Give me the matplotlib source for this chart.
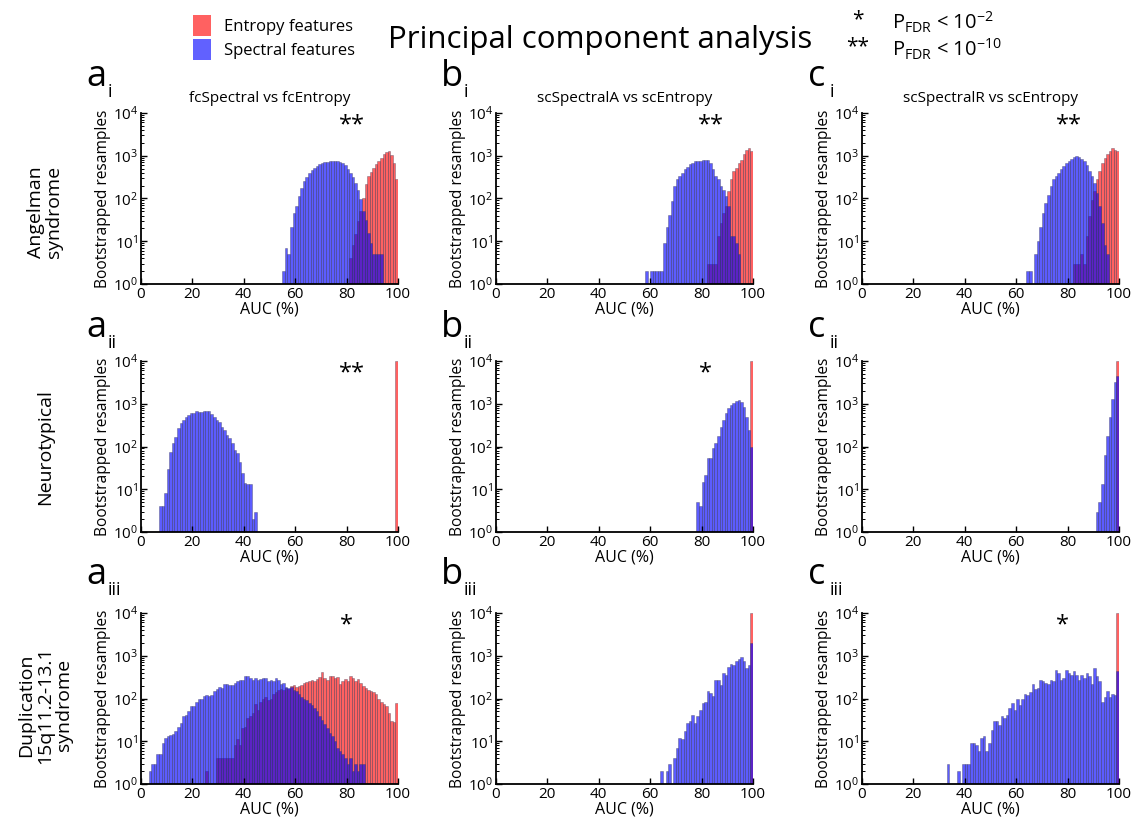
import matplotlib
matplotlib.use("Agg")
import matplotlib.pyplot as plt
import matplotlib.transforms as mtransforms
from matplotlib.patches import Patch

plt.rcParams['font.family'] = ['Open Sans', 'DejaVu Sans']
plt.rcParams['mathtext.default'] = 'regular'

# ---- data: bootstrapped AUC histograms (1% bins), first bin + counts ----
ai_spec_start = 55
ai_spec = [2, 7, 5, 22, 46, 66, 113, 177, 250, 320, 400, 460, 530, 590, 640, 680,
           710, 730, 750, 760, 770, 760, 730, 680, 600, 500, 400, 320, 230, 160,
           95, 50, 32, 16, 9, 5, 5, 5, 5]
ai_ent_start = 81
ai_ent = [4, 8, 15, 30, 50, 100, 220, 330, 420, 520, 640, 760, 900, 1070, 1200,
          1300, 1050, 680, 280]

bi_spec_start = 58
bi_spec = [2, 0, 2, 2, 2, 2, 2, 9, 22, 42, 87, 195, 280, 330, 400, 480, 550, 630,
           680, 750, 770, 760, 780, 800, 810, 680, 500, 330, 280, 195, 160, 113,
           66, 13, 13, 9, 5]
bi_ent_start = 82
bi_ent = [3, 3, 3, 3, 13, 27, 46, 66, 150, 280, 440, 520, 680, 800, 1070, 1400,
          1500, 1300]

ci_spec_start = 64
ci_spec = [2, 2, 0, 5, 10, 22, 46, 80, 120, 195, 280, 330, 400, 480, 570, 680,
           750, 850, 930, 1000, 960, 850, 750, 600, 440, 330, 230, 135, 66, 27,
           8, 5]
ci_ent_start = 82
ci_ent = [3, 3, 3, 5, 3, 13, 40, 90, 150, 280, 440, 680, 900, 1070, 1300, 1500,
          1400, 1300]

aii_spec_start = 7
aii_spec = [4, 4, 8, 30, 76, 120, 170, 270, 350, 420, 480, 550, 600, 620, 660,
            650, 650, 660, 690, 660, 580, 500, 420, 380, 290, 240, 185, 155, 120,
            84, 70, 44, 24, 14, 13, 13, 2, 3]
aii_ent_start = 99
aii_ent = [10000]

bii_spec_start = 78
bii_spec = [5, 4, 15, 21, 55, 55, 90, 120, 180, 290, 420, 600, 800, 950, 1060,
            1170, 1200, 1100, 860, 500, 240, 100]
bii_ent_start = 99
bii_ent = [10000]

cii_spec_start = 91
cii_spec = [3, 5, 13, 64, 178, 500, 1270, 3300, 4500]
cii_ent_start = 99
cii_ent = [10000]

aiii_spec_start = 3
aiii_spec = [2, 3, 3, 5, 5, 9, 12, 13, 14, 15, 17, 22, 27, 38, 42, 50, 65, 68, 85,
             100, 100, 112, 120, 112, 120, 147, 165, 185, 175, 220, 220, 210, 210,
             230, 250, 275, 275, 330, 340, 300, 275, 300, 275, 285, 300, 300, 250,
             275, 250, 300, 275, 220, 230, 190, 175, 185, 160, 150, 130, 110, 100,
             90, 80, 70, 60, 50, 40, 32, 25, 20, 16, 13, 10, 7, 6, 5, 4, 3, 4, 2,
             3, 2, 3, 3]
aiii_ent_start = 25
aiii_ent = [2, 0, 0, 0, 4, 4, 4, 4, 4, 4, 4, 8, 11, 8, 20, 22, 35, 38, 45, 75, 55,
            85, 100, 110, 90, 100, 130, 145, 155, 165, 160, 180, 170, 200, 210,
            185, 200, 210, 230, 240, 250, 275, 260, 290, 320, 410, 300, 270, 330,
            340, 300, 320, 220, 260, 280, 250, 330, 300, 260, 280, 230, 200, 175,
            160, 150, 140, 130, 100, 85, 75, 65, 45, 30, 28, 80]

biii_spec_start = 60
biii_spec = [1, 0, 1, 0, 2, 0, 2, 3, 0, 4, 7, 12, 11, 17, 27, 29, 42, 27, 38, 55,
             80, 85, 150, 135, 117, 275, 275, 210, 400, 360, 540, 650, 620, 740,
             840, 920, 740, 520, 620, 2000]
biii_ent_start = 99
biii_ent = [10000]

ciii_spec_start = 33
ciii_spec = [3, 0, 0, 0, 2, 0, 3, 3, 3, 9, 9, 8, 6, 12, 13, 6, 9, 18, 29, 29, 24,
             38, 35, 42, 60, 78, 55, 100, 70, 100, 130, 120, 140, 220, 165, 180,
             270, 250, 230, 220, 270, 260, 460, 400, 270, 300, 470, 400, 360, 430,
             360, 270, 360, 300, 400, 330, 220, 520, 330, 250, 85, 110, 150, 110,
             125, 120, 430]
ciii_ent_start = 99
ciii_ent = [10000]

titles = ["fcSpectral vs fcEntropy", "scSpectralA vs scEntropy", "scSpectralR vs scEntropy"]
col_letters = ["a", "b", "c"]
row_subs = ["i", "ii", "iii"]
row_names = ["Angelman\nsyndrome", "Neurotypical", "Duplication\n15q11.2-13.1\nsyndrome"]

# significance marks: (row, col) -> (mark, AUC position)
stars = {(0, 0): ("**", 82), (0, 1): ("**", 83.5), (0, 2): ("**", 80.5),
         (1, 0): ("**", 82), (1, 1): ("*", 81.5),
         (2, 0): ("*", 80), (2, 2): ("*", 78)}

panels = [
    [(ai_spec_start, ai_spec, ai_ent_start, ai_ent),
     (bi_spec_start, bi_spec, bi_ent_start, bi_ent),
     (ci_spec_start, ci_spec, ci_ent_start, ci_ent)],
    [(aii_spec_start, aii_spec, aii_ent_start, aii_ent),
     (bii_spec_start, bii_spec, bii_ent_start, bii_ent),
     (cii_spec_start, cii_spec, cii_ent_start, cii_ent)],
    [(aiii_spec_start, aiii_spec, aiii_ent_start, aiii_ent),
     (biii_spec_start, biii_spec, biii_ent_start, biii_ent),
     (ciii_spec_start, ciii_spec, ciii_ent_start, ciii_ent)],
]

RED = (1.0, 0.0, 0.0)
BLUE = (0.0, 0.0, 1.0)
EDGE = (0.25, 0.25, 0.35, 0.55)

W, H = 1132, 821


def px(x, y):
    return x / W, 1 - y / H


def bars(ax, start, counts, color, alpha):
    xs = [start + i for i, c in enumerate(counts) if c > 0]
    ys = [c for c in counts if c > 0]
    ax.bar(xs, ys, width=1, align='edge', color=color, alpha=alpha,
           edgecolor=EDGE, linewidth=0.4, log=True)


fig = plt.figure(figsize=(W / 100, H / 100), dpi=100)

col_left = [141, 496, 862]
row_top = [113, 361, 613]
ax_w, ax_h = 257, 171
letter_x = [86, 441, 808]
sub_x = [108, 464, 830]
letter_base = [86, 337, 584]

for r in range(3):
    for c in range(3):
        l, b = px(col_left[c], row_top[r] + ax_h)
        ax = fig.add_axes([l, b, ax_w / W, ax_h / H])
        s0, spec, e0, ent = panels[r][c]
        bars(ax, e0, ent, RED, 0.62)
        bars(ax, s0, spec, BLUE, 0.64)
        ax.set_yscale('log')
        ax.set_ylim(1, 1e4)
        ax.set_xlim(0, 100)
        ax.set_xticks([0, 20, 40, 60, 80, 100])
        ax.spines['top'].set_visible(False)
        ax.spines['right'].set_visible(False)
        ax.spines['left'].set_linewidth(1.3)
        ax.spines['bottom'].set_linewidth(1.3)
        ax.tick_params(axis='both', which='major', direction='in', length=4,
                       width=1, labelsize=11, pad=2)
        ax.tick_params(axis='y', which='minor', direction='in', length=2, width=0.7)
        ax.set_ylabel("Bootstrapped resamples", fontsize=11.2, labelpad=1)
        ax.set_xlabel("AUC (%)", fontsize=11.5, labelpad=0)
        if r == 0:
            ax.set_title(titles[c], fontsize=11, pad=8)
        if (r, c) in stars:
            mark, xpos = stars[(r, c)]
            trans = mtransforms.blended_transform_factory(ax.transData, ax.transAxes)
            ax.text(xpos, 0.93, mark, transform=trans, ha='center', va='center',
                    fontsize=17)
        # panel letters
        fx, fy = px(letter_x[c], letter_base[r])
        fig.text(fx, fy, col_letters[c], fontsize=26, ha='left', va='baseline')
        fx, fy = px(sub_x[c], letter_base[r] + 11)
        fig.text(fx, fy, row_subs[r], fontsize=13, ha='left', va='baseline')

# row names
row_center = [212, 447, 705]
for r in range(3):
    fx, fy = px(45, row_center[r])
    fig.text(fx, fy, row_names[r], rotation=90, ha='center', va='center',
             fontsize=14, linespacing=1.05, multialignment='center')

# title
fx, fy = px(600, 40)
fig.text(fx, fy, "Principal component analysis", ha='center', va='center', fontsize=22.5)

# colour legend
handles = [Patch(facecolor=RED, alpha=0.62, edgecolor='none', label="Entropy features"),
           Patch(facecolor=BLUE, alpha=0.62, edgecolor='none', label="Spectral features")]
fx, fy = px(186, 8)
fig.legend(handles=handles, loc='upper left', bbox_to_anchor=(fx, fy), frameon=False,
           fontsize=12, handlelength=1.1, handleheight=1.6, handletextpad=0.8,
           labelspacing=0.15, borderaxespad=0)

# significance key
for y, mark, expo in [(20, "*", "-2"), (47, "**", "-10")]:
    fx, fy = px(858, y)
    fig.text(fx, fy, mark, ha='center', va='center', fontsize=15)
    fx, fy = px(892, y + 2)
    fig.text(fx, fy, r"$P_{FDR}$ < 10$^{%s}$" % expo, ha='left', va='center',
             fontsize=14.5)

fig.savefig("out.png", dpi=100)
